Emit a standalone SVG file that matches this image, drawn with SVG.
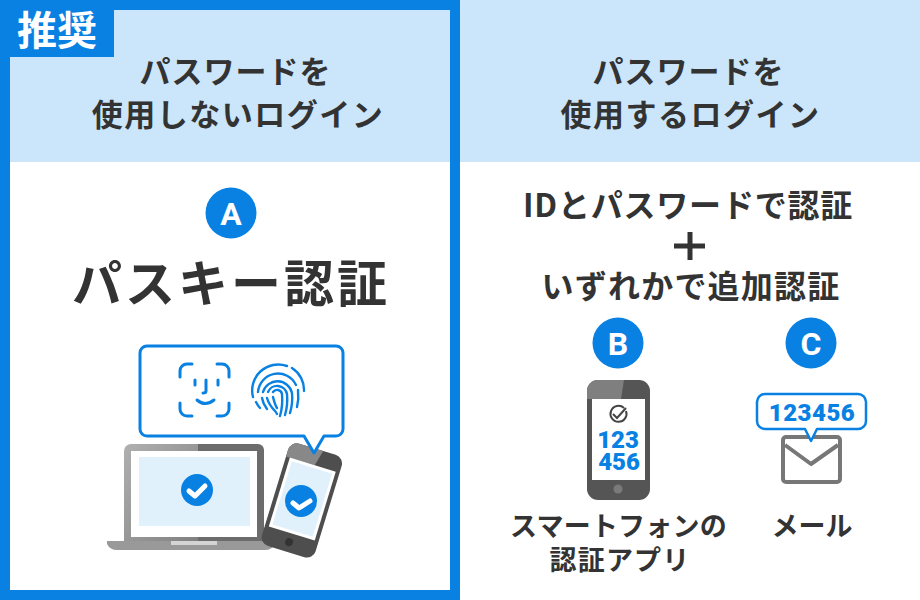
<svg xmlns="http://www.w3.org/2000/svg" width="920" height="600" viewBox="0 0 920 600">
<style>
text{font-family:"Noto Sans CJK JP","Noto Sans",sans-serif;font-weight:700;text-anchor:middle;fill:#333}
.h{font-size:31px;letter-spacing:1.5px}
.h2{font-size:31px;letter-spacing:1px}
.l{font-size:27px}
.b{fill:#0881e3}
.bt{fill:#fff;font-family:"Roboto","Noto Sans",sans-serif;font-size:32px}
.blue{fill:#0881e3;font-family:"Roboto","Noto Sans",sans-serif;font-weight:900}
.ln{fill:none;stroke:#0881e3;stroke-width:3;stroke-linecap:round;stroke-linejoin:round}
.ck{fill:none;stroke:#fff;stroke-width:5;stroke-linecap:round;stroke-linejoin:round}
</style>
<defs>
<linearGradient id="g" x1="0" y1="0" x2="1" y2="1"><stop offset="0" stop-color="#b0b0b0"/><stop offset="1" stop-color="#808080"/></linearGradient>
</defs>
<rect width="920" height="600" fill="#fff"/>
<g id="left-panel">
<rect x="0" y="0" width="460" height="600" fill="#0881e3"/>
<rect x="10" y="10" width="440" height="580" fill="#fff"/>
<rect x="10" y="10" width="440" height="152" fill="#cbe6fa"/>
<rect x="0" y="0" width="114" height="57" fill="#0881e3"/>
<text x="57" y="45" style="fill:#fff;font-size:40px">推奨</text>
<text class="h2" x="235.500" y="83">パスワードを</text>
<text class="h" x="238" y="126">使用しないログイン</text>
</g>
<g id="right-header">
<rect x="460" y="0" width="460" height="162" fill="#cbe6fa"/>
<text class="h2" x="688.500" y="83">パスワードを</text>
<text class="h" x="690.500" y="126">使用するログイン</text>
</g>
<g id="badge-a">
<circle cx="231" cy="213" r="25.500" class="b"/>
<text class="bt" x="231" y="225">A</text>
</g>
<text x="231" y="302" style="font-size:50px;letter-spacing:3px">パスキー認証</text>
<g id="passkey-illustration">
<path d="M124 451a7 7 0 0 1 7-7H198V541H124Z" fill="url(#g)"/>
<path d="M198 444H258a6 6 0 0 1 6 6V541H198Z" fill="#6c6c6c"/>
<rect x="131" y="451" width="126" height="86" fill="#fff"/>
<rect x="139" y="457" width="111" height="69" fill="#e0f1fc"/>
<path d="M107 541H275V544Q272 550 265 550H117Q110 550 107 544Z" fill="#999"/>
<rect x="171" y="541" width="46" height="4" fill="#d4d4d4"/>
<circle cx="197" cy="490" r="16" class="b"/>
<path class="ck" d="M189 491l6 5l10-10"/>
<g transform="rotate(17 302 500)">
<rect x="274" y="447" width="56" height="107" rx="9" fill="#4e4e4e"/>
<path d="M283 447h25l-4 16h-30v-7a9 9 0 0 1 9-9Z" fill="#888"/>
<rect x="278" y="463" width="48" height="72" fill="#fff"/>
<rect x="281" y="466" width="42" height="66" fill="#e0f1fc"/>
<circle cx="302" cy="544" r="4" fill="#333"/>
</g>
<circle cx="301" cy="501" r="16" class="b"/>
<path class="ck" d="M293 503l6 5l11-7"/>
<path d="M148 346H336a7 7 0 0 1 7 7V429a7 7 0 0 1-7 7H324L314 453L304 436H147a7 7 0 0 1-7-7V353a7 7 0 0 1 7-7Z" fill="#fff" stroke="#0881e3" stroke-width="3" stroke-linejoin="round"/>
<path class="ln" d="M180 377v-6a7 7 0 0 1 7-7h5M217 364h5a7 7 0 0 1 7 7v6M229 403v6a7 7 0 0 1-7 7h-5M192 416h-5a7 7 0 0 1-7-7v-6M195 380v5M218 380v5M206 380v11q0 2-3 2M197 400q8 7 17 0"/>
<g fill="none" stroke="#0881e3" stroke-width="2.400" stroke-linecap="round">
<path d="M253 397a26 26 0 0 1 34-31M292 368a26 26 0 0 1 12 23"/>
<path d="M258 392a20 20 0 0 1 38-7M298 390q1 9-1 17M256 402q2 4 4 6"/>
<path d="M263 392a15 15 0 0 1 29 1q1 10-2 20M262 398q1 6 5 11"/>
<path d="M268 392a10 10 0 0 1 19 2q1 11-2 21M267 398q2 7 8 13q1 1 2 3"/>
<path d="M273 392a5 5 0 0 1 9 2q1 12-2 22M273 397q2 8 4 11"/>
</g>
</g>
<g id="right-text">
<text x="688" y="217" style="font-size:32px;letter-spacing:.8px">IDとパスワードで認証</text>
<path d="M674 246H705" stroke="#333" stroke-width="5"/><path d="M690 232V260" stroke="#333" stroke-width="5"/>
<text x="691" y="298" style="font-size:32px;letter-spacing:1.2px">いずれかで追加認証</text>
</g>
<g id="badge-b">
<circle cx="618" cy="343" r="25.500" class="b"/>
<text class="bt" x="618" y="355">B</text>
</g>
<g id="badge-c">
<circle cx="811" cy="343" r="25.500" class="b"/>
<text class="bt" x="811" y="355">C</text>
</g>
<g id="phone-b">
<rect x="587" y="380" width="63" height="120" rx="11" fill="#555"/>
<path d="M598 380h26l-3 19h-34v-8a11 11 0 0 1 11-11Z" fill="#7f7f7f"/>
<rect x="592" y="399" width="53" height="81" fill="#fff"/>
<circle cx="618" cy="489" r="4.500" fill="#7a7a7a"/>
<path d="M626 411a8 8 0 1 1-2-3" fill="none" stroke="#444" stroke-width="2"/>
<path d="M613 414l4 4l9-10" fill="none" stroke="#444" stroke-width="2"/>
<text class="blue" style="font-size:24px" text-anchor="middle"><tspan x="618" y="448">123</tspan><tspan x="619" y="470">456</tspan></text>
</g>
<g id="mail-c">
<rect x="783" y="437" width="57" height="45" rx="3" fill="#fff" stroke="#777" stroke-width="4"/>
<path d="M785 445L811 464L838 445" fill="none" stroke="#777" stroke-width="4" stroke-linejoin="round"/>
<path d="M765 394H858a8 8 0 0 1 8 8V421a8 8 0 0 1-8 8H817L811 441L805 429H765a8 8 0 0 1-8-8V402a8 8 0 0 1 8-8Z" fill="#fff" stroke="#0881e3" stroke-width="2.500" stroke-linejoin="round"/>
<text class="blue" x="812" y="421" style="font-size:24px;letter-spacing:.5px">123456</text>
</g>
<g id="captions">
<text class="l"><tspan x="618.500" y="536" style="letter-spacing:.2px">スマートフォンの</tspan><tspan x="620" y="570" style="letter-spacing:1.2px">認証アプリ</tspan></text>
<text class="l" x="812" y="536">メール</text>
</g>
</svg>
